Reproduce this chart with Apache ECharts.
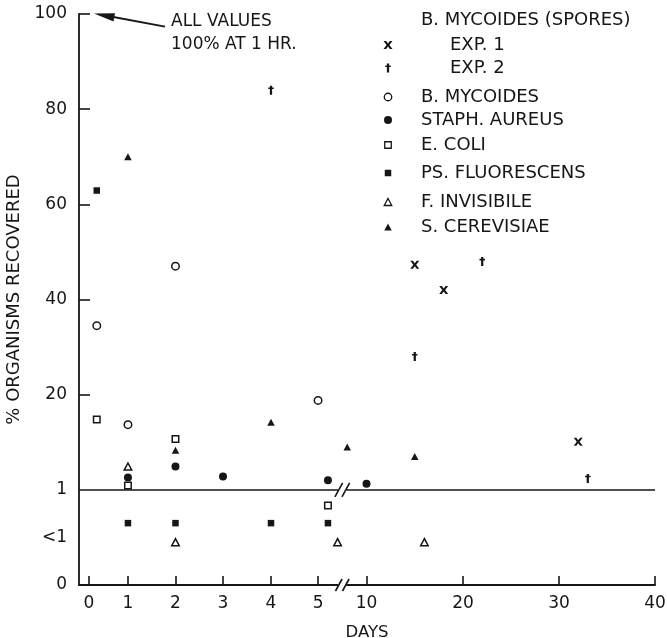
<!DOCTYPE html>
<html>
<head>
<meta charset="utf-8">
<script src="https://cdn.jsdelivr.net/npm/echarts@6/dist/echarts.min.js"></script>
<style>
  html, body { margin: 0; padding: 0; background: #fff; }
  #chart { width: 667px; height: 638px; }
</style>
</head>
<body>
<div id="chart"></div>
<script>
// ---- Data -------------------------------------------------------------
// Days after exposure; % organisms recovered.
// Negative percentages are "<1" results, drawn in the band under the 1% line
// (0 on the value axis is the 1% line, -20 is zero recovery).
const exp1Days = [15, 18, 32];
const exp1Pct  = [47.3, 42, 10.1];
const exp2Days = [4, 15, 22, 33];
const exp2Pct  = [84, 28, 48, 2.4];
const mycoidesDays = [0.2, 1, 2, 5];
const mycoidesPct  = [34.5, 13.7, 47, 18.8];
const staphDays = [1, 2, 3, 6, 10];
const staphPct  = [2.6, 4.9, 2.8, 2.0, 1.3];
const coliDays = [0.2, 1, 2, 6];
const coliPct  = [14.8, 0.9, 10.7, -3.3];
const fluorDays = [0.2, 1, 2, 4, 6];
const fluorPct  = [62.9, -7, -7, -7, -7];
const invisDays = [1, 2, 7, 16];
const invisPct  = [4.9, -11, -11, -11];
const cerevDays = [1, 2, 4, 8, 15];
const cerevPct  = [70, 8.3, 14.2, 9.0, 7.0];

const seriesNames = ['EXP. 1', 'EXP. 2', 'B. MYCOIDES', 'STAPH. AUREUS',
  'E. COLI', 'PS. FLUORESCENS', 'F. INVISIBILE', 'S. CEREVISIAE'];
const legendHeader = 'B. MYCOIDES (SPORES)';
const noteLines = ['ALL VALUES', '100% AT 1 HR.'];

// Day axis tick labels
const dayTicks = [0, 1, 2, 3, 4, 5, 10, 20, 30, 40];
// Y axis labels (axis value -> text)
const yLabelValues = [-20, -10, 0, 20, 40, 60, 80, 100];
const yLabelTexts  = ['0', '<1', '1', '20', '40', '60', '80', '100'];

// ---- Broken day scale ---------------------------------------------------
// The day axis is drawn in two linear pieces (0-5 and 10-40) with a break.
// Axis units for each labelled tick:
const dayTickPos = [0.21, 1.03, 2.03, 3.03, 4.04, 5.03, 6.05, 8.08, 10.10, 12.12];
const AXIS_MAX = 12.12;

function interp(d, xs, ys) {
  let k = 0;
  while (k < xs.length - 2 && d > xs[k + 1]) k++;
  return ys[k] + (d - xs[k]) * (ys[k + 1] - ys[k]) / (xs[k + 1] - xs[k]);
}
function dayPos(d) {
  if (d <= 5.5) return interp(d, dayTicks.slice(0, 6), dayTickPos.slice(0, 6));
  return interp(d, dayTicks.slice(6), dayTickPos.slice(6));
}
const BREAK_POS = (dayTickPos[5] + dayTickPos[6]) / 2;

// ---- Marker shapes -------------------------------------------------------
const INK = '#161616';
const crossPts  = [[0,0],[2.9,0],[5,2.7],[7.1,0],[10,0],[6.6,4.5],[10,9],[7.1,9],[5,6.3],[2.9,9],[0,9],[3.4,4.5]];
const daggerPts = [[3.2,0],[6.8,0],[6.8,2.5],[9.4,2.5],[9.4,4.6],[6.8,4.6],[6.8,12],[3.2,12],[3.2,4.6],[0.6,4.6],[0.6,2.5],[3.2,2.5]];
const toPath = pts => 'path://M' + pts.map(p => p.join(',')).join('L') + 'Z';

const markers = [
  { kind: 'poly', pts: crossPts,  size: [9, 8] },
  { kind: 'poly', pts: daggerPts, size: [5.5, 9] },
  { kind: 'circle', filled: false, size: 7.5 },
  { kind: 'circle', filled: true,  size: 8 },
  { kind: 'rect', filled: false, size: 6.5 },
  { kind: 'rect', filled: true,  size: 6.5 },
  { kind: 'tri', filled: false, size: [7.5, 7] },
  { kind: 'tri', filled: true,  size: [7.5, 7] }
];
const seriesDays = [exp1Days, exp2Days, mycoidesDays, staphDays, coliDays, fluorDays, invisDays, cerevDays];
const seriesPct  = [exp1Pct, exp2Pct, mycoidesPct, staphPct, coliPct, fluorPct, invisPct, cerevPct];

function symbolFor(m) {
  if (m.kind === 'poly') return toPath(m.pts);
  if (m.kind === 'circle') return 'circle';
  if (m.kind === 'rect') return 'rect';
  return 'triangle';
}
function itemStyleFor(m) {
  const filled = m.kind === 'poly' || m.filled;
  return filled
    ? { color: INK, opacity: 1 }
    : { color: '#fff', borderColor: INK, borderWidth: 1.5, opacity: 1 };
}

const series = seriesNames.map((name, i) => ({
  type: 'scatter',
  name: name,
  data: seriesDays[i].map((d, j) => [dayPos(d), seriesPct[i][j]]),
  symbol: symbolFor(markers[i]),
  symbolSize: markers[i].size,
  itemStyle: itemStyleFor(markers[i]),
  emphasis: { disabled: true },
  z: 5
}));
// the 1% reference line across the plot
series[0].markLine = {
  silent: true,
  symbol: 'none',
  label: { show: false },
  lineStyle: { color: INK, width: 1.7, type: 'solid' },
  emphasis: { disabled: true },
  data: [{ yAxis: 0 }]
};

// ---- Legend & annotation (graphic elements) ---------------------------
const FONT = 'DejaVu Sans';
function legendShape(m, cx, cy) {
  const filled = m.kind === 'poly' || m.filled;
  const style = filled ? { fill: INK } : { fill: '#fff', stroke: INK, lineWidth: 1.3 };
  if (m.kind === 'circle') return { type: 'circle', shape: { cx, cy, r: m.size / 2 }, style };
  if (m.kind === 'rect') return { type: 'rect', shape: { x: cx - m.size / 2, y: cy - m.size / 2, width: m.size, height: m.size }, style };
  if (m.kind === 'tri') {
    const [w, h] = m.size;
    return { type: 'polygon', shape: { points: [[cx, cy - h / 2], [cx + w / 2, cy + h / 2], [cx - w / 2, cy + h / 2]] }, style };
  }
  const xs = m.pts.map(p => p[0]), ys = m.pts.map(p => p[1]);
  const x0 = Math.min(...xs), x1 = Math.max(...xs), y0 = Math.min(...ys), y1 = Math.max(...ys);
  const [w, h] = m.size;
  const pts = m.pts.map(p => [cx - w / 2 + (p[0] - x0) / (x1 - x0) * w, cy - h / 2 + (p[1] - y0) / (y1 - y0) * h]);
  return { type: 'polygon', shape: { points: pts }, style };
}

const legendRows = [45, 68, 97, 120, 145, 173, 202, 227];
const legendGraphics = [{
  type: 'text', x: 421, y: 20,
  style: { text: legendHeader, font: '18px "' + FONT + '"', fill: INK, verticalAlign: 'middle' }
}];
seriesNames.forEach((name, i) => {
  legendGraphics.push(legendShape(markers[i], 388, legendRows[i]));
  legendGraphics.push({
    type: 'text', x: i < 2 ? 450 : 421, y: legendRows[i],
    style: { text: name, font: '18px "' + FONT + '"', fill: INK, verticalAlign: 'middle' }
  });
});

const noteGraphics = [
  { type: 'text', x: 171, y: 21.5, style: { text: noteLines[0], font: '17px "' + FONT + '"', fill: INK, verticalAlign: 'middle' } },
  { type: 'text', x: 171, y: 45, style: { text: noteLines[1], font: '17px "' + FONT + '"', fill: INK, verticalAlign: 'middle' } },
  { type: 'line', shape: { x1: 165, y1: 26.7, x2: 108, y2: 16 }, style: { stroke: INK, lineWidth: 1.8 } },
  { type: 'polygon', shape: { points: [[94, 13.4], [115, 13.3], [113.5, 21.5]] }, style: { fill: INK } }
];

// ---- Chart ----------------------------------------------------------------
const chart = echarts.init(document.getElementById('chart'), null, { renderer: 'canvas' });

const labelFont = { fontFamily: FONT, fontSize: 17, color: INK };

chart.setOption({
  backgroundColor: '#fff',
  animation: false,
  grid: { left: 79, right: 12, top: 14, bottom: 53, containLabel: false, outerBoundsMode: 'none' },
  xAxis: {
    type: 'value',
    min: 0,
    max: AXIS_MAX,
    name: 'DAYS',
    nameLocation: 'middle',
    nameGap: 39,
    nameTextStyle: { fontFamily: FONT, fontSize: 16.5, color: INK },
    axisLine: { show: true, onZero: false, lineStyle: { color: INK, width: 1.8 } },
    axisTick: { show: true, inside: true, length: 9, customValues: dayTickPos, lineStyle: { color: INK, width: 1.6 } },
    axisLabel: Object.assign({
      customValues: dayTickPos,
      margin: 10,
      formatter: v => {
        const k = dayTickPos.findIndex(p => Math.abs(p - v) < 1e-6);
        return k >= 0 ? String(dayTicks[k]) : '';
      }
    }, labelFont),
    splitLine: { show: false }
  },
  yAxis: {
    type: 'value',
    min: -20,
    max: 100,
    name: '% ORGANISMS RECOVERED',
    nameLocation: 'middle',
    nameGap: 52,
    nameTextStyle: { fontFamily: FONT, fontSize: 18, color: INK },
    axisLine: { show: true, onZero: false, lineStyle: { color: INK, width: 1.8 } },
    axisTick: { show: true, inside: true, length: 11, customValues: [20, 40, 60, 80, 100], lineStyle: { color: INK, width: 1.6 } },
    axisLabel: Object.assign({
      customValues: yLabelValues,
      margin: 12,
      padding: [4, 0, 0, 0],
      formatter: v => {
        const k = yLabelValues.indexOf(v);
        return k >= 0 ? yLabelTexts[k] : '';
      }
    }, labelFont),
    splitLine: { show: false }
  },
  series: series,
  graphic: legendGraphics.concat(noteGraphics)
});

// break marks on the day axis and on the 1% line
function breakMarks(yVal, halfH) {
  const [bx, by] = chart.convertToPixel({ gridIndex: 0 }, [BREAK_POS, yVal]);
  const out = [{ type: 'rect', shape: { x: bx - 4, y: by - 2, width: 8, height: 4 }, style: { fill: '#fff' }, z: 10 }];
  [-3.5, 3.5].forEach(dx => {
    out.push({ type: 'line', z: 11, shape: { x1: bx + dx - halfH * 0.55, y1: by + halfH, x2: bx + dx + halfH * 0.55, y2: by - halfH },
      style: { stroke: INK, lineWidth: 1.6 } });
  });
  return out;
}
chart.setOption({
  graphic: legendGraphics.concat(noteGraphics, breakMarks(-20, 6), breakMarks(0, 7))
});
</script>
</body>
</html>
